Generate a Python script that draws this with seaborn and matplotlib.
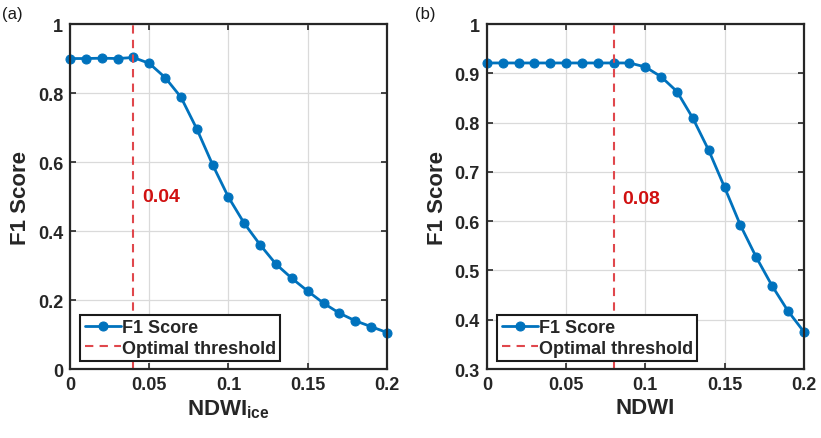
import numpy as np
import pandas as pd
import matplotlib
matplotlib.use("Agg")
import matplotlib.pyplot as plt
import seaborn as sns

# ---- data ----
thr_a = [0.00, 0.01, 0.02, 0.03, 0.04, 0.05, 0.06, 0.07, 0.08, 0.09, 0.10,
         0.11, 0.12, 0.13, 0.14, 0.15, 0.16, 0.17, 0.18, 0.19, 0.20]
f1_a = [0.900, 0.900, 0.901, 0.900, 0.903, 0.886, 0.845, 0.788, 0.696, 0.592, 0.498,
        0.422, 0.360, 0.304, 0.263, 0.226, 0.191, 0.162, 0.140, 0.123, 0.106]
thr_b = [0.00, 0.01, 0.02, 0.03, 0.04, 0.05, 0.06, 0.07, 0.08, 0.09, 0.10,
         0.11, 0.12, 0.13, 0.14, 0.15, 0.16, 0.17, 0.18, 0.19, 0.20]
f1_b = [0.921, 0.921, 0.921, 0.921, 0.921, 0.921, 0.921, 0.921, 0.921, 0.921, 0.913,
        0.893, 0.863, 0.809, 0.744, 0.669, 0.592, 0.527, 0.469, 0.418, 0.376]
opt_a = 0.04
opt_b = 0.08
xticks = [0, 0.05, 0.1, 0.15, 0.2]
xticklabels = ["0", "0.05", "0.1", "0.15", "0.2"]
yticks_a = [0, 0.2, 0.4, 0.6, 0.8, 1.0]
yticklabels_a = ["0", "0.2", "0.4", "0.6", "0.8", "1"]
yticks_b = [0.3, 0.4, 0.5, 0.6, 0.7, 0.8, 0.9, 1.0]
yticklabels_b = ["0.3", "0.4", "0.5", "0.6", "0.7", "0.8", "0.9", "1"]

sns.set_theme(style="whitegrid")
plt.rcParams["font.family"] = ["Liberation Sans", "DejaVu Sans"]
plt.rcParams["mathtext.fontset"] = "custom"
plt.rcParams["mathtext.rm"] = "Liberation Sans:bold"
plt.rcParams["mathtext.bf"] = "Liberation Sans:bold"
plt.rcParams["mathtext.it"] = "Liberation Sans:bold"

BLUE = "#0072BD"
RED = "#E0474C"
TXTRED = "#D01010"

fig = plt.figure(figsize=(8.21, 4.39), dpi=100)
ax_a = fig.add_axes([0.0853, 0.157, 0.386, 0.786])
ax_b = fig.add_axes([0.593, 0.157, 0.386, 0.786])

panels = [
    (ax_a, thr_a, f1_a, opt_a, yticks_a, yticklabels_a, (0, 1), r"$\mathbf{NDWI_{ice}}$", 0.499, "(a)", 0.0),
    (ax_b, thr_b, f1_b, opt_b, yticks_b, yticklabels_b, (0.3, 1), "NDWI", 0.647, "(b)", 0.503),
]

for ax, x, y, opt, yt, ytl, ylim, xlabel, ytext, plabel, px in panels:
    df = pd.DataFrame({"thr": x, "f1": y})
    sns.lineplot(data=df, x="thr", y="f1", ax=ax, color=BLUE, lw=2,
                 marker="o", markersize=6.5, markeredgecolor=BLUE,
                 label="F1 Score", zorder=3, clip_on=False)
    ax.axvline(opt, color=RED, ls=(0, (4, 3)), lw=1.5, label="Optimal threshold", zorder=4)
    ax.text(opt + 0.0055, ytext, f"{opt:.2f}", color=TXTRED, fontsize=14,
            fontweight="bold", va="center", ha="left")
    ax.set_xlim(0, 0.2)
    ax.set_ylim(*ylim)
    ax.set_xticks(xticks)
    ax.set_xticklabels(xticklabels, fontsize=13, fontweight="bold")
    ax.set_yticks(yt)
    ax.set_yticklabels(ytl, fontsize=13, fontweight="bold")
    ax.set_xlabel(xlabel, fontsize=16, fontweight="bold", labelpad=3)
    ax.set_ylabel("F1 Score", fontsize=16, fontweight="bold", labelpad=5)
    ax.set_facecolor("white")
    ax.grid(True, color="#DADADA", lw=0.9)
    for s in ax.spines.values():
        s.set_color("#262626")
        s.set_linewidth(1.6)
        s.set_visible(True)
        s.set_zorder(5)
    ax.tick_params(axis="both", direction="in", length=4, width=1.2, color="#262626",
                   top=True, right=True, bottom=True, left=True, pad=5,
                   labelcolor="#262626")
    leg = ax.legend(loc="lower left", bbox_to_anchor=(0.032, 0.023), borderaxespad=0,
                    frameon=True, fancybox=False, edgecolor="#1a1a1a",
                    prop={"weight": "bold", "size": 13}, handlelength=2.0,
                    handletextpad=0.05, borderpad=0.25, labelspacing=0.2)
    leg.get_frame().set_linewidth(1.5)
    leg.get_frame().set_alpha(1)
    leg.set_zorder(10)
    fig.text(px + 0.002, 0.985, plabel, fontsize=12, va="top", ha="left", color="#1a1a1a")

fig.savefig("out.png", dpi=100, facecolor="white")
